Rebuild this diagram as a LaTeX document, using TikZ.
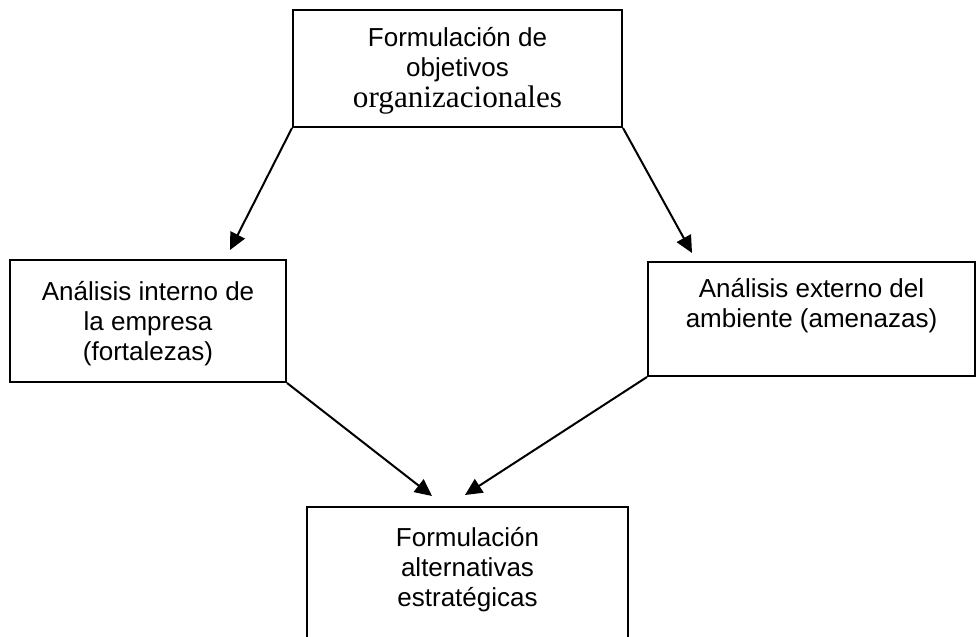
\documentclass[tikz,border=0pt]{standalone}
\usepackage{fontspec}
\setmainfont{Liberation Sans}
\newfontfamily\timesfont{Liberation Serif}
\usetikzlibrary{arrows.meta}
\newcommand{\boxtext}[4]{\begin{minipage}[c][#2][t]{#1}\centering\fontsize{13}{15}\selectfont\vspace*{#3}\strut #4\end{minipage}}
\begin{document}
\begin{tikzpicture}[x=0.5pt,y=-0.5pt,
  boxnode/.style={draw, line width=1pt, inner sep=0pt},
  arr/.style={line width=1pt, -{Triangle[length=8.5pt,width=8pt]}}]
\useasboundingbox (0,0) rectangle (978,636);
\clip (0,0) rectangle (978,636);
\node[boxnode] (top) at (457.5,68.5) {\boxtext{164.5pt}{58.5pt}{7.6pt}{Formulación de\\objetivos\\[0.5pt]{\timesfont\fontsize{15.6}{15}\selectfont organizacionales}}};
\node[boxnode] (left) at (148,321) {\boxtext{138pt}{61pt}{9.6pt}{Análisis interno de\\la empresa\\(fortalezas)}};
\node[boxnode] (right) at (811.5,319) {\boxtext{163.5pt}{57pt}{7.1pt}{Análisis externo del\\ambiente (amenazas)}};
\node[boxnode] (bottom) at (467.5,593.5) {\boxtext{160.5pt}{86.5pt}{9.1pt}{Formulación\\alternativas\\estratégicas}};
\coordinate (t1) at (230,250);
\coordinate (t2) at (692,253);
\coordinate (t3) at (432,496);
\coordinate (t4) at (465,495);
\draw[arr] (top.south west) -- (t1);
\draw[arr] (top.south east) -- (t2);
\draw[arr] (left.south east) -- (t3);
\draw[arr] (right.south west) -- (t4);
\end{tikzpicture}
\end{document}
